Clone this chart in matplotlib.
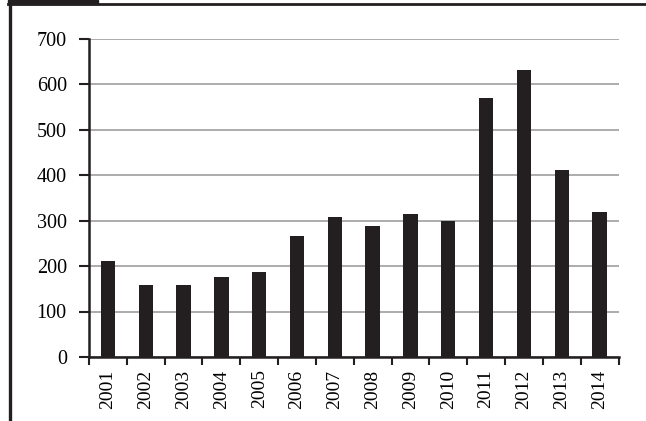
import numpy as np
import matplotlib.pyplot as plt
from matplotlib.patches import Rectangle
from matplotlib.lines import Line2D

plt.rcParams['font.family'] = ['Liberation Serif', 'DejaVu Serif']

# dati
anni = ['2001', '2002', '2003', '2004', '2005', '2006', '2007',
        '2008', '2009', '2010', '2011', '2012', '2013', '2014']
valori = [212, 159, 158, 176, 187, 266, 307, 288, 314, 300, 569, 630, 412, 318]
y_ticks = [0, 100, 200, 300, 400, 500, 600, 700]

W, H = 646, 421
fig = plt.figure(figsize=(W / 100, H / 100), dpi=100)
ax = fig.add_axes([89 / W, 1 - 357 / H, (618.5 - 89) / W, (357 - 38.5) / H])

x = np.arange(len(anni))
ax.bar(x, valori, width=0.38, color='#231f20', zorder=3)

ax.set_xlim(-0.5, len(anni) - 0.5)
ax.set_ylim(0, 700)
ax.set_yticks(y_ticks)
ax.yaxis.grid(True, color='#a6a6a6', linewidth=1.3, zorder=0)

# tick maggiori ai bordi delle categorie, etichette al centro
ax.set_xticks(np.arange(-0.5, len(anni), 1.0))
ax.set_xticklabels([])
ax.set_xticks(x, minor=True)
ax.set_xticklabels(anni, minor=True, rotation=90, fontsize=14)
ax.tick_params(axis='x', which='minor', length=0, pad=9)
ax.tick_params(axis='x', which='major', length=6, width=1.5, color='#231f20')
ax.tick_params(axis='y', length=7, width=1.5, color='#231f20', pad=9, labelsize=14.5)

for s in ['top', 'right']:
    ax.spines[s].set_visible(False)
for s in ['left', 'bottom']:
    ax.spines[s].set_linewidth(1.8)
    ax.spines[s].set_color('#231f20')

# cornice della figura
fig.patches.append(Rectangle((8 / W, 1 - 4 / H), 90 / W, 4 / H,
                             transform=fig.transFigure, color='#231f20'))
fig.lines.append(Line2D([8 / W, 1], [1 - 4.3 / H, 1 - 4.3 / H],
                        transform=fig.transFigure, color='#231f20', linewidth=2))
fig.lines.append(Line2D([9.5 / W, 9.5 / W], [0, 1],
                        transform=fig.transFigure, color='#231f20', linewidth=2.4))

fig.savefig('out.png', dpi=100)
